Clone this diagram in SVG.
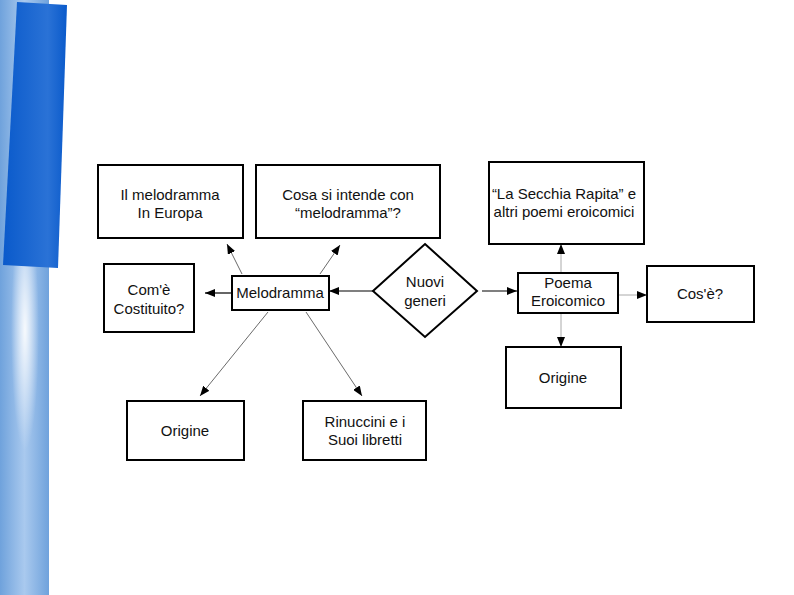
<svg xmlns="http://www.w3.org/2000/svg" width="794" height="595" viewBox="0 0 794 595">
<defs>
<linearGradient id="strip" x1="0" y1="0" x2="1" y2="0">
<stop offset="0" stop-color="#6fa2dc"/>
<stop offset="0.5" stop-color="#a9c9ee"/>
<stop offset="1" stop-color="#6fa2dc"/>
</linearGradient>
<radialGradient id="glow" cx="0.5" cy="0.5" r="0.5">
<stop offset="0" stop-color="#ffffff" stop-opacity="0.9"/>
<stop offset="1" stop-color="#ffffff" stop-opacity="0"/>
</radialGradient>
<linearGradient id="dark" x1="0" y1="0" x2="1" y2="0">
<stop offset="0" stop-color="#0a5acb"/>
<stop offset="0.7" stop-color="#2a72d6"/>
<stop offset="1" stop-color="#0a5acb"/>
</linearGradient>
<marker id="ah" viewBox="0 0 10 8" refX="10" refY="4" markerWidth="10" markerHeight="8" markerUnits="userSpaceOnUse" orient="auto">
<path d="M0,0 L10,4 L0,8 Z" fill="#000"/>
</marker>
<style>
.box{fill:#fff;stroke:#000;stroke-width:2}
.t{font-family:"Liberation Sans",Arial,sans-serif;font-size:15px;fill:#111;text-anchor:middle}
.c{fill:none;stroke:#444;stroke-width:0.8;marker-end:url(#ah)}
.cd{fill:none;stroke:#000;stroke-width:1.2;marker-end:url(#ah)}
.cl{fill:none;stroke:#aaa;stroke-width:1;marker-end:url(#ah)}
</style>
</defs>
<rect width="794" height="595" fill="#fff"/>
<g id="decoration">
<rect x="0" y="0" width="49" height="595" fill="url(#strip)"/>
<ellipse cx="25" cy="330" rx="14" ry="120" fill="url(#glow)"/>
<polygon points="17,2 67,5 58,268 3,265" fill="url(#dark)"/>
</g>
<g id="connectors">
<line class="c" x1="242" y1="274" x2="227" y2="244"/>
<line class="c" x1="320" y1="274" x2="340" y2="245"/>
<line class="cd" x1="232" y1="293" x2="205" y2="293"/>
<line class="cd" x1="373" y1="291" x2="329" y2="291"/>
<line class="cd" x1="482" y1="291" x2="517" y2="291"/>
<line class="cl" x1="561" y1="273" x2="561" y2="244"/>
<line class="cl" x1="618" y1="295" x2="647" y2="295"/>
<line class="cl" x1="561" y1="313" x2="561" y2="347"/>
<line class="c" x1="268" y1="312" x2="200" y2="396"/>
<line class="c" x1="306" y1="312" x2="362" y2="396"/>
</g>
<g id="n-europa">
<rect class="box" x="98" y="165" width="145" height="73"/>
<text class="t" x="170" y="200">Il melodramma</text>
<text class="t" x="170" y="218">In Europa</text>
</g>
<g id="n-cosa">
<rect class="box" x="256" y="165" width="184" height="73"/>
<text class="t" x="348" y="200">Cosa si intende con</text>
<text class="t" x="348" y="218">“melodramma”?</text>
</g>
<g id="n-come">
<rect class="box" x="104" y="264" width="90" height="68"/>
<text class="t" x="149" y="295">Com'è</text>
<text class="t" x="149" y="314">Costituito?</text>
</g>
<g id="n-melodramma">
<rect class="box" x="232" y="276" width="97" height="34"/>
<text class="t" x="280" y="298">Melodramma</text>
</g>
<g id="n-nuovi">
<polygon class="box" points="425,244 477,291 425,337 373,291"/>
<text class="t" x="425" y="287">Nuovi</text>
<text class="t" x="425" y="306">generi</text>
</g>
<g id="n-secchia">
<rect class="box" x="489" y="162" width="155" height="82"/>
<text class="t" x="564" y="199">“La Secchia Rapita” e</text>
<text class="t" x="564" y="217">altri poemi eroicomici</text>
</g>
<g id="n-poema">
<rect class="box" x="518" y="273" width="100" height="40"/>
<text class="t" x="568" y="288">Poema</text>
<text class="t" x="568" y="306">Eroicomico</text>
</g>
<g id="n-cose">
<rect class="box" x="647" y="266" width="107" height="56"/>
<text class="t" x="700" y="299">Cos'è?</text>
</g>
<g id="n-origine-r">
<rect class="box" x="506" y="347" width="115" height="61"/>
<text class="t" x="563" y="383">Origine</text>
</g>
<g id="n-origine-l">
<rect class="box" x="127" y="401" width="117" height="59"/>
<text class="t" x="185" y="436">Origine</text>
</g>
<g id="n-rinuccini">
<rect class="box" x="303" y="401" width="123" height="59"/>
<text class="t" x="365" y="427">Rinuccini e i</text>
<text class="t" x="365" y="445">Suoi libretti</text>
</g>
</svg>
